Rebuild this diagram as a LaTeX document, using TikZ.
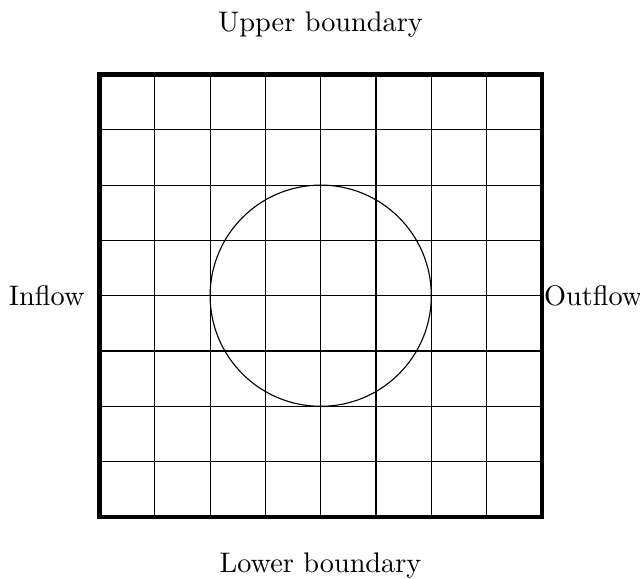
\documentclass[tikz,border=0pt]{standalone}
\begin{document}
\begin{tikzpicture}[x=0.3535pt,y=-0.3535pt,
  gridline/.style={line width=0.4pt},
  borderline/.style={line width=1.6pt},
  lbl/.style={inner sep=0pt}]
\useasboundingbox (0,0) rectangle (640,578);
\foreach \i in {1,...,7} {
  \draw[gridline] ({99.5+55.3*\i},74.5) -- ({99.5+55.3*\i},516.9);
  \draw[gridline] (99.5,{74.5+55.3*\i}) -- (541.9,{74.5+55.3*\i});
}
\draw[gridline] (320.7,295.7) circle[radius=110.6];
\draw[borderline] (99.5,74.5) rectangle (541.9,516.9);
\node[lbl,anchor=base] (up) at (320.5,31) {Upper boundary};
\node[lbl,anchor=base] (lo) at (320.5,572) {Lower boundary};
\node[lbl,anchor=base east] (in) at (85,305) {Inflow};
\node[lbl,anchor=base west] (out) at (543.5,305) {Outflow};
\end{tikzpicture}
\end{document}
